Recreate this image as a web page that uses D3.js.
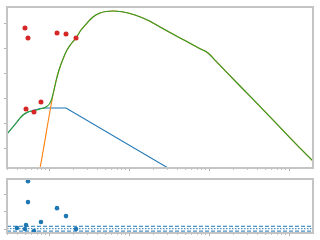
<!DOCTYPE html>
<html>
<head>
<meta charset="utf-8">
<script src="https://cdn.jsdelivr.net/npm/d3@7"></script>
<style>
  html, body { margin: 0; padding: 0; background: #fff; }
</style>
</head>
<body>
<div id="chart"></div>
<script>
// fitted curves, [x, y]
const blueLine = [[0.2985, 1.556], [0.345, 1.795], [0.398, 2.034], [0.434, 2.194], [0.473, 2.313],
  [0.546, 2.433], [0.631, 2.49], [0.772, 2.57], [0.9, 2.592], [1.631, 2.592], [37, 0.05]];
const orangeLine = [[0.74, -0.1], [0.772, 0.2], [1.155, 3.31], [1.223, 3.669], [1.334, 4.108],
  [1.496, 4.546], [1.679, 4.905], [1.884, 5.144], [2.175, 5.383], [2.512, 5.702], [2.985, 5.981],
  [3.548, 6.221], [4.34, 6.38], [5.16, 6.44], [6.31, 6.46], [8.17, 6.43], [11.89, 6.3],
  [18.3, 6.05], [24.4, 5.82], [50.1, 5.28], [77.2, 4.957], [97.2, 4.785], [122.3, 4.458],
  [244, 3.47], [579, 2.241], [1372, 0.997], [1995, 0.479]];
const greenLine = [[0.2985, 1.556], [0.345, 1.795], [0.398, 2.034], [0.434, 2.194], [0.473, 2.313],
  [0.546, 2.433], [0.631, 2.473], [0.772, 2.552], [0.917, 2.632], [1.029, 2.792], [1.09, 2.991],
  [1.155, 3.31], [1.223, 3.669], [1.334, 4.108], [1.496, 4.546], [1.679, 4.905], [1.884, 5.144],
  [2.175, 5.383], [2.512, 5.702], [2.985, 5.981], [3.548, 6.221], [4.34, 6.38], [5.16, 6.44],
  [6.31, 6.46], [8.17, 6.43], [11.89, 6.3], [18.3, 6.05], [24.4, 5.82], [50.1, 5.28],
  [77.2, 4.957], [97.2, 4.785], [122.3, 4.458], [244, 3.47], [579, 2.241], [1372, 0.997],
  [1995, 0.479]];

// measured points
const pointX = [0.501, 0.546, 1.259, 1.631, 2.175, 0.516, 0.649, 0.794];
const pointY = [5.782, 5.383, 5.583, 5.543, 5.383, 2.552, 2.433, 2.832];

// residuals
const residX = [0.546, 0.546, 1.259, 1.631, 0.794, 0.516, 0.398, 0.501, 0.649, 2.175];
const residY = [2.75, 1.54, 1.19, 0.73, 0.39, 0.21, 0.04, -0.02, -0.13, -0.02];
const residBands = [0.14, 0, -0.14];

const xTicks = [1, 10, 100, 1000];
const mainYTicks = [1, 2, 3, 4, 5, 6];
const residYTicks = [0, 1, 2];

const width = 320;
const height = 240;
const spine = '#c4c4c4';
const tickColor = '#b4b4b4';

const svg = d3.select('#chart').append('svg')
  .attr('width', width)
  .attr('height', height);

const left = 7, right = 313;
const main = {top: 7, bottom: 168};
const resid = {top: 179, bottom: 233};

const x = d3.scaleLog().domain([0.2985, 1995]).range([left, right]);
const yMain = d3.scaleLinear().domain([0.2, 6.62]).range([main.bottom, main.top]);
const yResid = d3.scaleLinear().domain([-0.25, 2.88]).range([resid.bottom, resid.top]);

// minor ticks for log axis
const minorTicks = [];
for (let d = 0.1; d <= 1000; d *= 10) {
  for (let k = 2; k <= 9; k++) {
    const v = d * k;
    if (v >= 0.2985 && v <= 1995) minorTicks.push(v);
  }
}

function drawFrame(box, yScale, yTicks, clipId) {
  const g = svg.append('g');

  g.append('clipPath').attr('id', clipId)
    .append('rect')
    .attr('x', left).attr('y', box.top)
    .attr('width', right - left).attr('height', box.bottom - box.top);

  // x ticks
  g.selectAll('.xmaj').data(xTicks).enter().append('line')
    .attr('x1', d => Math.round(x(d)) + 0.5).attr('x2', d => Math.round(x(d)) + 0.5)
    .attr('y1', box.bottom).attr('y2', box.bottom + 3)
    .attr('stroke', tickColor).attr('stroke-width', 1);
  g.selectAll('.xmin').data(minorTicks).enter().append('line')
    .attr('x1', d => Math.round(x(d)) + 0.5).attr('x2', d => Math.round(x(d)) + 0.5)
    .attr('y1', box.bottom).attr('y2', box.bottom + 2)
    .attr('stroke', tickColor).attr('stroke-width', 0.8);

  // y ticks
  g.selectAll('.ytick').data(yTicks).enter().append('line')
    .attr('x1', left - 3).attr('x2', left)
    .attr('y1', d => Math.round(yScale(d)) + 0.5).attr('y2', d => Math.round(yScale(d)) + 0.5)
    .attr('stroke', tickColor).attr('stroke-width', 1);

  return g;
}

function drawSpines(box) {
  svg.append('rect')
    .attr('x', left).attr('y', box.top)
    .attr('width', right - left).attr('height', box.bottom - box.top)
    .attr('fill', 'none')
    .attr('stroke', spine)
    .attr('stroke-width', 2);
}

drawFrame(main, yMain, mainYTicks, 'clipMain');
drawFrame(resid, yResid, residYTicks, 'clipResid');

const plot = svg.append('g').attr('clip-path', 'url(#clipMain)');
const smooth = d3.line()
  .x(d => x(d[0]))
  .y(d => yMain(d[1]))
  .curve(d3.curveMonotoneX);
const straight = d3.line()
  .x(d => x(d[0]))
  .y(d => yMain(d[1]));

[[blueLine, '#1f77b4', straight], [orangeLine, '#ff7f0e', smooth], [greenLine, '#2ca02c', smooth]]
  .forEach(([data, color, gen]) => {
    plot.append('path')
      .datum(data)
      .attr('d', gen)
      .attr('fill', 'none')
      .attr('stroke', color)
      .attr('stroke-width', 1.1);
  });

plot.selectAll('.pt').data(pointX).enter().append('circle')
  .attr('cx', d => x(d))
  .attr('cy', (d, i) => yMain(pointY[i]))
  .attr('r', 2.5)
  .attr('fill', '#d62728');

drawSpines(main);

const low = svg.append('g').attr('clip-path', 'url(#clipResid)');
const bandDash = ['4,2', '1.5,1.5', '4,2'];
low.selectAll('.band').data(residBands).enter().append('line')
  .attr('x1', left).attr('x2', right)
  .attr('y1', d => yResid(d)).attr('y2', d => yResid(d))
  .attr('stroke', '#1f77b4')
  .attr('stroke-width', 1)
  .attr('stroke-dasharray', (d, i) => bandDash[i]);

low.selectAll('.rpt').data(residX).enter().append('circle')
  .attr('cx', d => x(d))
  .attr('cy', (d, i) => yResid(residY[i]))
  .attr('r', 2.3)
  .attr('fill', '#1f77b4');

drawSpines(resid);
</script>
</body>
</html>
